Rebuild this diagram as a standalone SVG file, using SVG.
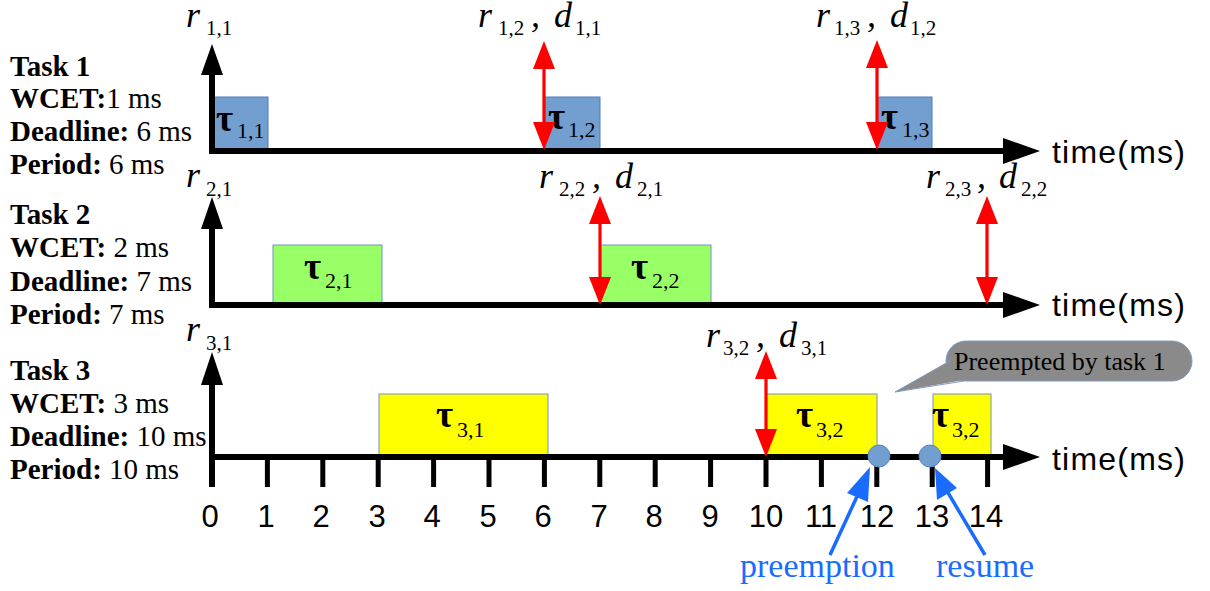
<svg xmlns="http://www.w3.org/2000/svg" width="1210" height="591" viewBox="0 0 1210 591">
<style>
.lbl{font-family:"Liberation Serif","Times New Roman",serif;font-size:29px;fill:#000}
.b{font-weight:bold}
.it{font-family:"Liberation Serif","Times New Roman",serif;font-size:36px;font-style:italic;fill:#000}
.sub{font-family:"Liberation Serif","Times New Roman",serif;font-size:21px;fill:#000}
.tau{font-family:"Liberation Serif","Times New Roman",serif;font-size:37px;font-weight:bold;fill:#000}
.tsub{font-family:"Liberation Serif","Times New Roman",serif;font-size:22px;fill:#000}
.num{font-family:"Liberation Sans",Arial,sans-serif;font-size:31px;fill:#000;text-anchor:middle}
.time{font-family:"Liberation Sans",Arial,sans-serif;font-size:32px;fill:#000}
.ann{font-family:"Liberation Serif","Times New Roman",serif;font-size:34px;fill:#1a6cff}
.axis{stroke:#000;stroke-width:6;fill:none}
.tick{stroke:#000;stroke-width:5}
.red{stroke:#ff0000;stroke-width:3.2}
.redh{fill:#ff0000}
.blk{fill:#000}
.bl{stroke:#1a6cff;stroke-width:3.5}
.blh{fill:#1a6cff}
.j1{fill:#729fcf;stroke:#4f7db8;stroke-width:1}
.j2{fill:#99ff66;stroke:#6f93c2;stroke-width:1}
.j3{fill:#ffff00;stroke:#6f93c2;stroke-width:1}
.pt{fill:#729fcf;stroke:#5b86bd;stroke-width:1}
</style>

<g id="task1-label">
<text class="lbl b" x="10" y="76">Task 1</text>
<text class="lbl" x="10" y="108"><tspan class="b">WCET:</tspan>1 ms</text>
<text class="lbl" x="10" y="141"><tspan class="b">Deadline:</tspan> 6 ms</text>
<text class="lbl" x="10" y="174"><tspan class="b">Period:</tspan> 6 ms</text>
</g>
<g id="task2-label">
<text class="lbl b" x="10" y="224">Task 2</text>
<text class="lbl" x="10" y="257"><tspan class="b">WCET:</tspan> 2 ms</text>
<text class="lbl" x="10" y="291"><tspan class="b">Deadline:</tspan> 7 ms</text>
<text class="lbl" x="10" y="324"><tspan class="b">Period:</tspan> 7 ms</text>
</g>
<g id="task3-label">
<text class="lbl b" x="10" y="380">Task 3</text>
<text class="lbl" x="10" y="413"><tspan class="b">WCET:</tspan> 3 ms</text>
<text class="lbl" x="10" y="446"><tspan class="b">Deadline:</tspan> 10 ms</text>
<text class="lbl" x="10" y="479"><tspan class="b">Period:</tspan> 10 ms</text>
</g>

<g id="jobs">
<g id="tau11"><rect class="j1" x="213" y="97" width="55" height="54"/><text class="tau" x="216" y="131">τ</text><text class="tsub" x="237" y="138">1,1</text></g>
<g id="tau12"><rect class="j1" x="545" y="97" width="55" height="54"/><text class="tau" x="548" y="129">τ</text><text class="tsub" x="568" y="137">1,2</text></g>
<g id="tau13"><rect class="j1" x="877" y="97" width="55" height="54"/><text class="tau" x="881" y="129">τ</text><text class="tsub" x="902" y="137">1,3</text></g>
<g id="tau21"><rect class="j2" x="273" y="245" width="109" height="60"/><text class="tau" x="304" y="279">τ</text><text class="tsub" x="325" y="288">2,1</text></g>
<g id="tau22"><rect class="j2" x="600" y="245" width="111" height="60"/><text class="tau" x="631" y="279">τ</text><text class="tsub" x="652" y="288">2,2</text></g>
<g id="tau31"><rect class="j3" x="379" y="394" width="169" height="63"/><text class="tau" x="436" y="427">τ</text><text class="tsub" x="457" y="437">3,1</text></g>
<g id="tau32a"><rect class="j3" x="766" y="394" width="111" height="63"/><text class="tau" x="796" y="427">τ</text><text class="tsub" x="816" y="437">3,2</text></g>
<g id="tau32b"><rect class="j3" x="933" y="394" width="58" height="63"/><text class="tau" x="932" y="427">τ</text><text class="tsub" x="952" y="437">3,2</text></g>
</g>

<g id="axes">
<path class="axis" d="M212,154 V72 M209,151 H1006"/>
<polygon class="blk" points="212,44 201,75 223,75"/>
<polygon class="blk" points="1003,138 1040,151 1003,164"/>
<path class="axis" d="M212,308 V226 M209,305 H1006"/>
<polygon class="blk" points="212,197 201,229 223,229"/>
<polygon class="blk" points="1003,292 1040,305 1003,318"/>
<path class="axis" d="M212,487 V382 M209,457 H1006"/>
<polygon class="blk" points="212,352 201,385 223,385"/>
<polygon class="blk" points="1003,444 1040,457 1003,470"/>
<path class="tick" d="M267.4,457V487 M322.8,457V487 M378.2,457V487 M433.6,457V487 M489,457V487 M544.4,457V487 M599.8,457V487 M655.2,457V487 M710.6,457V487 M766,457V487 M821.4,457V487 M876.8,457V487 M932.2,457V487 M987.6,457V487"/>
</g>

<g id="time-labels">
<text class="time" x="1052" y="163" textLength="133">time(ms)</text>
<text class="time" x="1052" y="316" textLength="133">time(ms)</text>
<text class="time" x="1052" y="470" textLength="133">time(ms)</text>
</g>

<g id="tick-labels">
<text class="num" x="210" y="527">0</text>
<text class="num" x="266" y="527">1</text>
<text class="num" x="321" y="527">2</text>
<text class="num" x="377" y="527">3</text>
<text class="num" x="432" y="527">4</text>
<text class="num" x="488" y="527">5</text>
<text class="num" x="543" y="527">6</text>
<text class="num" x="599" y="527">7</text>
<text class="num" x="654" y="527">8</text>
<text class="num" x="710" y="527">9</text>
<text class="num" x="766" y="527">10</text>
<text class="num" x="821" y="527">11</text>
<text class="num" x="877" y="527">12</text>
<text class="num" x="932" y="527">13</text>
<text class="num" x="986" y="527">14</text>
</g>

<g id="release-labels">
<g id="r11"><text class="it" x="186" y="27">r</text><text class="sub" x="206" y="35">1,1</text></g>
<g id="r12d11"><text class="it" x="478" y="27">r</text><text class="sub" x="498" y="35">1,2</text><text class="it" x="531" y="27">,</text><text class="it" x="554" y="27">d</text><text class="sub" x="575" y="35">1,1</text></g>
<g id="r13d12"><text class="it" x="816" y="27">r</text><text class="sub" x="834" y="35">1,3</text><text class="it" x="867" y="27">,</text><text class="it" x="890" y="27">d</text><text class="sub" x="910" y="35">1,2</text></g>
<g id="r21"><text class="it" x="186" y="187">r</text><text class="sub" x="206" y="196">2,1</text></g>
<g id="r22d21"><text class="it" x="539" y="188">r</text><text class="sub" x="559" y="196">2,2</text><text class="it" x="592" y="188">,</text><text class="it" x="615" y="188">d</text><text class="sub" x="637" y="196">2,1</text></g>
<g id="r23d22"><text class="it" x="926" y="188">r</text><text class="sub" x="945" y="196">2,3</text><text class="it" x="977" y="188">,</text><text class="it" x="999" y="188">d</text><text class="sub" x="1021" y="196">2,2</text></g>
<g id="r31"><text class="it" x="186" y="341">r</text><text class="sub" x="206" y="350">3,1</text></g>
<g id="r32d31"><text class="it" x="706" y="347">r</text><text class="sub" x="723" y="355">3,2</text><text class="it" x="756" y="347">,</text><text class="it" x="779" y="347">d</text><text class="sub" x="801" y="355">3,1</text></g>
</g>

<g id="preempt-points">
<circle class="pt" cx="879" cy="456" r="11"/>
<circle class="pt" cx="930" cy="456" r="11"/>
</g>

<g id="callout">
<rect x="946" y="341" width="246" height="40" rx="20" ry="20" fill="#8a8a8a" stroke="#7f9cc4" stroke-width="1"/>
<polygon points="951,360 895,392 964,380" fill="#8a8a8a"/>
<path d="M950,361 L895,392 L964,381" fill="none" stroke="#7f9cc4" stroke-width="1"/>
<text x="954" y="370" font-family="Liberation Serif, Times New Roman, serif" font-size="26" fill="#000">Preempted by task 1</text>
</g>

<g id="annotations">
<text class="ann" x="740" y="577">preemption</text>
<text class="ann" x="936" y="577">resume</text>
</g>

<g id="connectors">
<line class="red" x1="544" y1="66" x2="544" y2="124"/>
<polygon class="redh" points="544,41 533,69 555,69"/>
<polygon class="redh" points="544,150 533,122 555,122"/>
<line class="red" x1="877" y1="66" x2="877" y2="124"/>
<polygon class="redh" points="877,40 866,68 888,68"/>
<polygon class="redh" points="877,150 866,122 888,122"/>
<line class="red" x1="600" y1="222" x2="600" y2="279"/>
<polygon class="redh" points="600,196 589,224 611,224"/>
<polygon class="redh" points="600,305 589,277 611,277"/>
<line class="red" x1="987" y1="222" x2="987" y2="279"/>
<polygon class="redh" points="987,196 976,224 998,224"/>
<polygon class="redh" points="987,305 976,277 998,277"/>
<line class="red" x1="766" y1="377" x2="766" y2="431"/>
<polygon class="redh" points="766,351 755,379 777,379"/>
<polygon class="redh" points="766,457 755,429 777,429"/>
<line class="bl" x1="830" y1="555" x2="860" y2="490"/>
<polygon class="blh" points="870,467 847,493 868,502"/>
<line class="bl" x1="985" y1="555" x2="947" y2="491"/>
<polygon class="blh" points="935,468 937,500 957,488"/>
</g>
</svg>
